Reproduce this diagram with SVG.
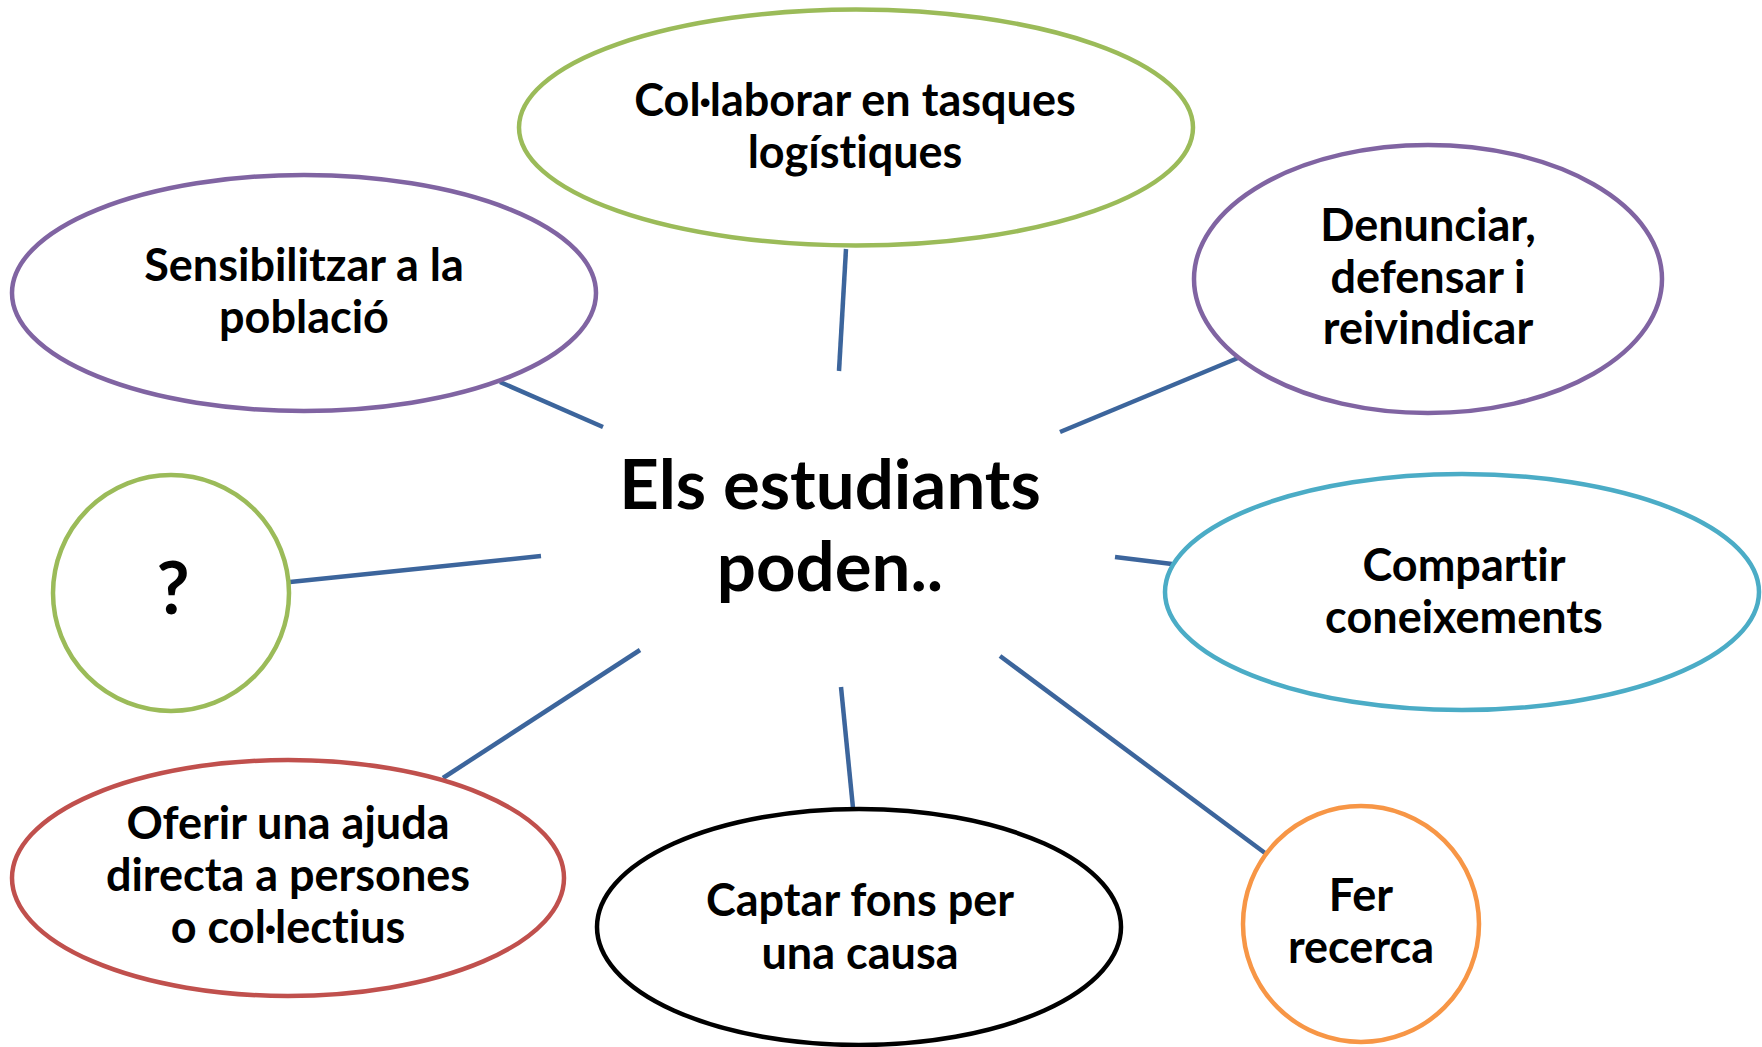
<svg xmlns="http://www.w3.org/2000/svg" width="1762" height="1047" viewBox="0 0 1762 1047">
<style>
.n{fill:#fff;stroke-width:4.5}
.t{font-family:Lato,"Open Sans","Liberation Sans",sans-serif;font-weight:bold;font-size:45px;text-anchor:middle;fill:#000;font-variant-ligatures:none}
.c{stroke:#3C659C;stroke-width:4.5;fill:none}
</style>
<rect width="1762" height="1047" fill="#fff"/>
<g id="connectors">
<line class="c" x1="846" y1="249" x2="839" y2="371"/>
<line class="c" x1="500" y1="382" x2="603" y2="427"/>
<line class="c" x1="1060" y1="432" x2="1238" y2="358"/>
<line class="c" x1="1115" y1="557" x2="1172" y2="564"/>
<line class="c" x1="290" y1="582" x2="541" y2="556"/>
<line class="c" x1="640" y1="650" x2="443" y2="778"/>
<line class="c" x1="841" y1="687" x2="853" y2="808"/>
<line class="c" x1="1000" y1="656" x2="1265" y2="853"/>
</g>
<g id="center">
<text class="t" x="830" y="509" style="font-size:69px">Els estudiants</text>
<text class="t" x="830" y="591" style="font-size:69px">poden..</text>
</g>
<g id="n-collaborar">
<ellipse class="n" stroke="#9BBB59" cx="856" cy="127.5" rx="337" ry="118"/>
<text class="t" x="855" y="116">Col·laborar en tasques</text>
<text class="t" x="855" y="168">logístiques</text>
</g>
<g id="n-sensibilitzar">
<ellipse class="n" stroke="#8064A2" cx="304" cy="293" rx="292" ry="118"/>
<text class="t" x="304" y="281">Sensibilitzar a la</text>
<text class="t" x="304" y="333">població</text>
</g>
<g id="n-denunciar">
<ellipse class="n" stroke="#8064A2" cx="1428" cy="279" rx="234" ry="134"/>
<text class="t" x="1428" y="241">Denunciar,</text>
<text class="t" x="1428" y="293">defensar i</text>
<text class="t" x="1428" y="344">reivindicar</text>
</g>
<g id="n-question">
<circle class="n" stroke="#9BBB59" cx="171" cy="593" r="118"/>
<text class="t" x="173" y="614" style="font-size:72px">?</text>
</g>
<g id="n-compartir">
<ellipse class="n" stroke="#4BACC6" cx="1462" cy="592" rx="297" ry="118"/>
<text class="t" x="1464" y="581">Compartir</text>
<text class="t" x="1464" y="633">coneixements</text>
</g>
<g id="n-oferir">
<ellipse class="n" stroke="#C0504D" cx="288" cy="878" rx="276" ry="118"/>
<text class="t" x="288" y="839">Oferir una ajuda</text>
<text class="t" x="288" y="891">directa a persones</text>
<text class="t" x="288" y="943">o col·lectius</text>
</g>
<g id="n-captar">
<ellipse class="n" stroke="#000" stroke-width="5" cx="859" cy="927" rx="262" ry="118"/>
<text class="t" x="860" y="916">Captar fons per</text>
<text class="t" x="860" y="969">una causa</text>
</g>
<g id="n-fer">
<circle class="n" stroke="#F79646" cx="1361" cy="924" r="118"/>
<text class="t" x="1361" y="911">Fer</text>
<text class="t" x="1361" y="963">recerca</text>
</g>
</svg>
